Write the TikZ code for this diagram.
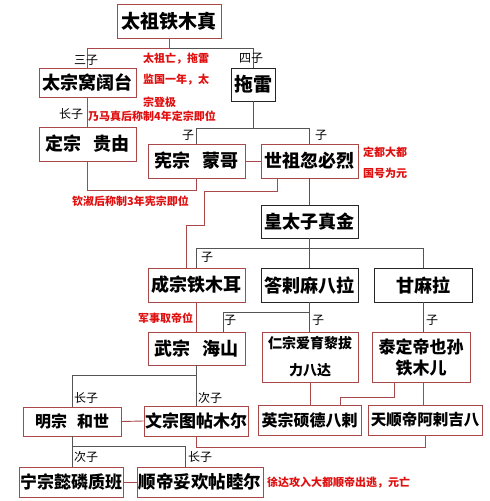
\documentclass[tikz,border=0pt]{standalone}
\usepackage{fontspec}
\setmainfont{Noto Sans CJK SC}
\usetikzlibrary{calc}
\definecolor{boxred}{HTML}{A84848}
\definecolor{linegray}{HTML}{555555}
\definecolor{notered}{HTML}{E01010}
\newcommand\cfs[1]{\fontsize{#1}{#1}\selectfont\bfseries}
\begin{document}
\begin{tikzpicture}[x=1pt,y=-1pt,
  emp/.style={draw=boxred, line width=0.9pt, inner sep=0pt, align=center},
  oth/.style={draw=black!85, line width=0.9pt, inner sep=0pt, align=center},
  fam/.style={draw=linegray, line width=0.9pt},
  suc/.style={draw=boxred, line width=0.9pt},
  lab/.style={font=\fontsize{12}{12}\selectfont, inner sep=0pt},
  note/.style={text=notered, font=\cfs{11}, inner sep=0pt, anchor=west}]
\useasboundingbox (0,0) rectangle (490,501);
\fill[white] (0,0) rectangle (490,501);

% boxes
\node[emp, minimum width=104pt, minimum height=34pt, font=\cfs{19}] (taizu) at (169,21) {太祖铁木真};
\node[emp, minimum width=97pt, minimum height=29pt, font=\cfs{18}] (taizong) at (87.5,82.5) {太宗窝阔台};
\node[oth, minimum width=44pt, minimum height=33pt, font=\cfs{19}] (tuolei) at (253,84.5) {拖雷};
\node[emp, minimum width=97pt, minimum height=34pt, font=\cfs{18}] (dingzong) at (87.5,144) {定宗\hspace{12pt}贵由};
\node[emp, minimum width=97pt, minimum height=34pt, font=\cfs{18}] (xianzong) at (196.5,161) {宪宗\hspace{12pt}蒙哥};
\node[emp, minimum width=97pt, minimum height=34pt, font=\cfs{18}] (shizu) at (309.5,161) {世祖忽必烈};
\node[oth, minimum width=97pt, minimum height=33pt, font=\cfs{18}] (huangtaizi) at (309.5,221.5) {皇太子真金};
\node[emp, minimum width=97pt, minimum height=34pt, font=\cfs{18}] (chengzong) at (196.5,285) {成宗铁木耳};
\node[oth, minimum width=97pt, minimum height=34pt, font=\cfs{18}] (dalama) at (309.5,285) {答剌麻八拉};
\node[oth, minimum width=98pt, minimum height=34pt, font=\cfs{18}] (ganmala) at (423,285) {甘麻拉};
\node[emp, minimum width=97pt, minimum height=33pt, font=\cfs{18}] (wuzong) at (196.5,348.5) {武宗\hspace{12pt}海山};
\node[emp, minimum width=96pt, minimum height=50pt, font={\fontsize{14}{27}\selectfont\bfseries}] (renzong) at (310,357) {仁宗爱育黎拔\\力八达};
\node[emp, minimum width=98pt, minimum height=50pt, font={\fontsize{17}{21}\selectfont\bfseries}] (taiding) at (421,357) {泰定帝也孙\\铁木儿};
\node[emp, minimum width=98pt, minimum height=29pt, font=\cfs{16}] (mingzong) at (72,421.5) {明宗\hspace{10pt}和世};
\node[emp, minimum width=104pt, minimum height=30pt, font=\cfs{17}] (wenzong) at (196,421) {文宗图帖木尔};
\node[emp, minimum width=103pt, minimum height=30pt, font=\cfs{16}] (yingzong) at (309.5,420) {英宗硕德八剌};
\node[emp, minimum width=114pt, minimum height=30pt, font=\cfs{15.5}] (tianshun) at (425,420) {天顺帝阿剌吉八};
\node[emp, minimum width=104pt, minimum height=30pt, font=\cfs{17}] (ningzong) at (71,482) {宁宗懿磷质班};
\node[emp, minimum width=126pt, minimum height=30pt, font=\cfs{17.5}] (shundi) at (200,482) {顺帝妥欢帖睦尔};

% junctions
\coordinate (j1) at ($(taizu.south)+(0,10)$);
\coordinate (j2) at ($(tuolei.south)+(0,27)$);
\coordinate (j3) at ($(huangtaizi.south)+(0,10)$);
\coordinate (j4) at ($(dalama.south)+(0,10)$);
\coordinate (j5) at ($(wuzong.south)+(0,10)$);
\coordinate (j6) at ($(mingzong.south)+(0,10)$);

% family lines
\draw[fam] (j1) -| (tuolei.north);
\draw[fam] (tuolei.south) -- (j2);
\draw[fam] (xianzong.north) |- (j2) -| (shizu.north);
\draw[fam] (shizu.south) -- (huangtaizi.north);
\draw[fam] (huangtaizi.south) -- (dalama.north);
\draw[fam] (chengzong.north) |- (j3) -| (ganmala.north);
\draw[fam] ($(wuzong.north)+(26.5,0)$) |- (j4);
\draw[fam] (dalama.south) -- (dalama.south |- renzong.north);
\draw[fam] (ganmala.south) -- (ganmala.south |- taiding.north);
\draw[fam] (wuzong.south) -- (j5);
\draw[fam] (mingzong.north) |- (j5) -| (wenzong.north);
\draw[fam] (mingzong.south) -- (mingzong.south |- ningzong.north);
\draw[fam] (j6) -| ($(shundi.north)+(-15,0)$);

% succession lines
\draw[suc] (taizu.south) -- (j1) -| (taizong.north);
\draw[suc] (taizong.south) -- (dingzong.north);
\draw[suc] (dingzong.south) -- ++(0,29) -| (xianzong.south);
\draw[suc] (xianzong.east) -- (shizu.west);
\draw[suc] ($(shizu.south west)+(17,0)$) -- ++(0,13) -- ++(-73,0) -- ++(0,34) -| ($(chengzong.north)+(-10.5,0)$);
\draw[suc] (chengzong.south) -- (wuzong.north);
\draw[suc] (renzong.south) -- (renzong.south |- yingzong.north);
\draw[suc] ($(taiding.south)+(-27,0)$) -- ++(0,15) -| ($(yingzong.north)+(30.5,0)$);
\draw[suc] (ganmala.south |- taiding.south) -- (ganmala.south |- tianshun.north);
\draw[suc] (wenzong.south) -- ++(0,11) -| (tianshun.south);
\draw[suc] (mingzong.east) -- (wenzong.west);
\draw[suc] (ningzong.east) -- (shundi.west);

% labels
\node[lab] (l1) at (86,60) {三子};
\node[lab] (l2) at (251,58) {四子};
\node[lab] (l3) at (71,114) {长子};
\node[lab] (l4) at (188,135) {子};
\node[lab] (l5) at (321,135) {子};
\node[lab] (l6) at (207,257) {子};
\node[lab] (l7) at (230,320) {子};
\node[lab] (l8) at (318,320) {子};
\node[lab] (l9) at (432,320) {子};
\node[lab] (l10) at (86,398) {长子};
\node[lab] (l11) at (210,398) {次子};
\node[lab] (l12) at (86,457) {次子};
\node[lab] (l13) at (200,457) {长子};

% notes
\node[note] (n1) at (143,59) {太祖亡，拖雷};
\node[note] (n2) at (143,80) {监国一年，太};
\node[note] (n3) at (143,102) {宗登极};
\node[note] (n4) at (88,116) {乃马真后称制4年定宗即位};
\node[note] (n5) at (72,201) {钦淑后称制3年宪宗即位};
\node[note] (n6) at (363,152) {定都大都};
\node[note] (n7) at (363,173) {国号为元};
\node[note] (n8) at (138,318) {军事取帝位};
\node[note] (n9) at (267,483) {徐达攻入大都顺帝出逃，元亡};
\end{tikzpicture}
\end{document}
